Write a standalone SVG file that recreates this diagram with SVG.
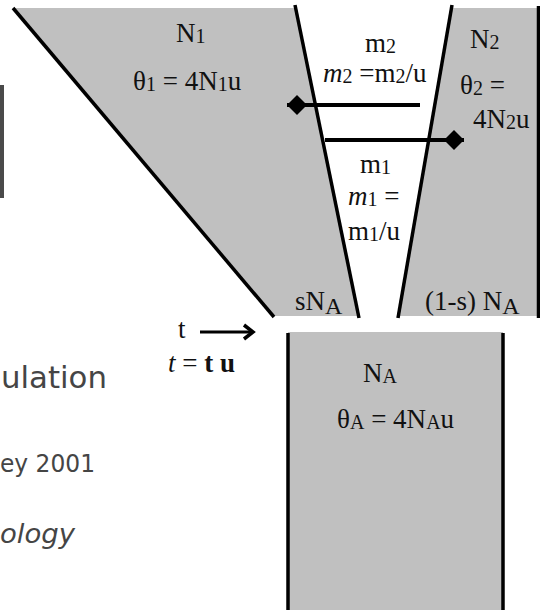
<svg xmlns="http://www.w3.org/2000/svg" width="540" height="610" viewBox="0 0 540 610">
<style>
.pop{fill:#c0c0c0;stroke:none}
.edge{stroke:#000;stroke-width:3.5;fill:none;stroke-linecap:butt}
.lbl{font-family:"Liberation Serif","Times New Roman",serif;font-size:27px;fill:#111}
.sub{font-size:20px}
.subA{font-size:24px}
.it{font-style:italic}
.bd{font-weight:bold}
.slide{font-family:"DejaVu Sans","Liberation Sans",sans-serif;fill:#454545}
.mig{stroke:#000;stroke-width:4;fill:none}
</style>
<defs>
<marker id="diamond" markerUnits="userSpaceOnUse" markerWidth="22" markerHeight="22" refX="20" refY="10" orient="auto">
<path d="M0,10 L10,0 L20,10 L10,20 Z" fill="#000"/>
</marker>
</defs>
<rect width="540" height="610" fill="#fff"/>

<g id="slide-text">
<text class="slide" x="1" y="388" font-size="31" textLength="106" lengthAdjust="spacingAndGlyphs">ulation</text>
<text class="slide" x="0" y="472" font-size="24" textLength="95" lengthAdjust="spacingAndGlyphs">ey 2001</text>
<text class="slide" x="0" y="543" font-size="26" font-style="italic" textLength="75" lengthAdjust="spacingAndGlyphs">ology</text>
<rect x="0" y="85" width="4" height="113" fill="#4a4a4a"/>
</g>

<g id="pop-N1">
<polygon class="pop" points="13,8 296,8 359,316 273,316"/>
<line class="edge" x1="13" y1="8" x2="274" y2="317"/>
<text class="lbl" x="176" y="42">N<tspan class="sub" dy="1">1</tspan></text>
<text class="lbl" x="133" y="90">θ<tspan class="sub" dy="1">1</tspan><tspan dy="-1"> = 4N</tspan><tspan class="sub" dy="1">1</tspan><tspan dy="-1">u</tspan></text>
<text class="lbl" x="295" y="310">sN<tspan class="subA" dy="4">A</tspan></text>
</g>

<g id="pop-N2">
<polygon class="pop" points="452,8 537,8 537,316 398,316"/>
<line class="edge" x1="538.5" y1="6" x2="538.5" y2="318"/>
<text class="lbl" x="470" y="48">N<tspan class="sub" dy="1">2</tspan></text>
<text class="lbl" x="460" y="94">θ<tspan class="sub" dy="1">2</tspan><tspan dy="-1"> =</tspan></text>
<text class="lbl" x="473" y="128">4N<tspan class="sub" dy="1">2</tspan><tspan dy="-1">u</tspan></text>
<text class="lbl" x="425" y="310">(1-s) N<tspan class="subA" dy="4">A</tspan></text>
</g>

<g id="migration">
<line class="edge" x1="295" y1="5" x2="359" y2="318"/>
<line class="edge" x1="452" y1="5" x2="398" y2="318"/>
<text class="lbl" x="365" y="52">m<tspan class="sub" dy="1">2</tspan></text>
<text class="lbl" x="323" y="82"><tspan class="it">m</tspan><tspan class="sub" dy="1">2</tspan><tspan dy="-1"> =m</tspan><tspan class="sub" dy="1">2</tspan><tspan dy="-1">/u</tspan></text>
<text class="lbl" x="360" y="173">m<tspan class="sub" dy="1">1</tspan></text>
<text class="lbl" x="348" y="205"><tspan class="it">m</tspan><tspan class="sub" dy="1">1</tspan><tspan dy="-1"> =</tspan></text>
<text class="lbl" x="348" y="240">m<tspan class="sub" dy="1">1</tspan><tspan dy="-1">/u</tspan></text>
</g>

<g id="pop-NA">
<rect class="pop" x="288" y="332" width="215" height="278"/>
<line class="edge" x1="288" y1="333" x2="288" y2="610"/>
<line class="edge" x1="503" y1="333" x2="503" y2="610"/>
<text class="lbl" x="363" y="382">N<tspan class="sub" dy="1">A</tspan></text>
<text class="lbl" x="337" y="428">θ<tspan class="sub" dy="1">A</tspan><tspan dy="-1"> = 4N</tspan><tspan class="sub" dy="1">A</tspan><tspan dy="-1">u</tspan></text>
</g>

<g id="time">
<text class="lbl" x="178" y="338">t</text>
<text class="lbl" x="168" y="372"><tspan class="it">t</tspan> = <tspan class="bd">t u</tspan></text>
</g>

<g id="connectors">
<line class="mig" x1="420" y1="105" x2="287" y2="105" marker-end="url(#diamond)"/>
<line class="mig" x1="325" y1="140" x2="464" y2="140" marker-end="url(#diamond)"/>
<line x1="200" y1="332" x2="252" y2="332" stroke="#000" stroke-width="3"/>
<polyline points="244,325 253,332 244,339" fill="none" stroke="#000" stroke-width="3.5"/>
</g>
</svg>
